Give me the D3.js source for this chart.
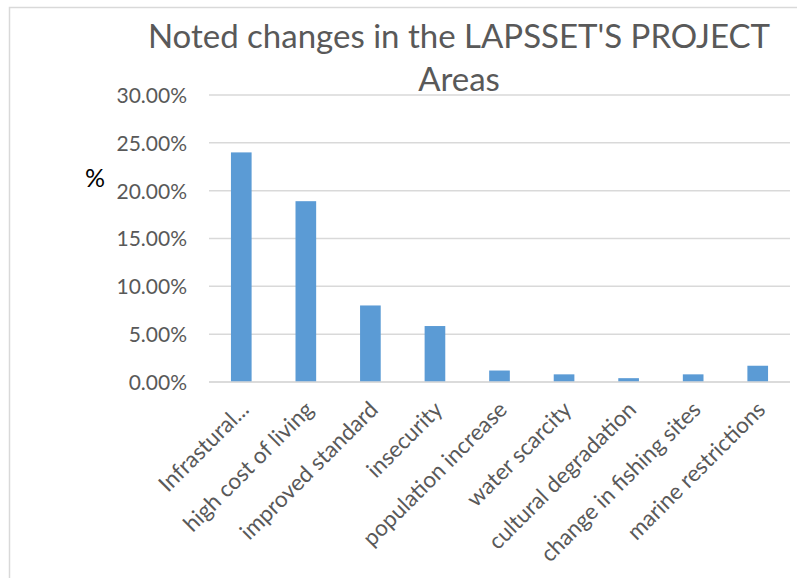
<!DOCTYPE html>
<html lang="en">
<head>
<meta charset="UTF-8">
<title>Noted changes in the LAPSSET'S PROJECT Areas</title>
<script src="https://d3js.org/d3.v7.min.js"></script>
<style>
  body { margin: 0; background: #fff; }
  svg { display: block; font-family: Lato, "Open Sans", sans-serif; }
  .tick text { fill: #595959; }
</style>
</head>
<body>
<svg id="chart" width="797" height="578"></svg>
<script>
const categories = ["Infrastural...", "high cost of living", "improved standard", "insecurity",
  "population increase", "water scarcity", "cultural degradation", "change in fishing sites", "marine restrictions"];
const values = [24.0, 18.9, 8.0, 5.85, 1.2, 0.8, 0.4, 0.8, 1.7];
const yTicks = [0, 5, 10, 15, 20, 25, 30];
const titleLines = ["Noted changes in the LAPSSET'S PROJECT", "Areas"];

const W = 797, H = 578;
const plot = { left: 209, right: 790, top: 95, bottom: 382 };
const svg = d3.select("#chart");

// chart border (only left and top edges visible in the crop)
svg.append("path")
  .attr("d", `M9.5,${H} V7.5 H${W}`)
  .attr("fill", "none").attr("stroke", "#d9d9d9").attr("stroke-width", 1.5);

const x = d3.scaleBand().domain(categories).range([plot.left, plot.right]).paddingInner(0.68).paddingOuter(0.34);
const y = d3.scaleLinear().domain([0, 30]).range([plot.bottom, plot.top]);

// gridlines
svg.append("g").selectAll("line").data(yTicks).join("line")
  .attr("x1", plot.left).attr("x2", plot.right)
  .attr("y1", d => y(d)).attr("y2", d => y(d))
  .attr("stroke", "#d9d9d9").attr("stroke-width", 1.5);

// y axis labels
const yAxis = svg.append("g").attr("transform", `translate(${plot.left - 22},0)`)
  .call(d3.axisLeft(y).tickValues(yTicks).tickSize(0).tickPadding(0).tickFormat(d => d.toFixed(2) + "%"));
yAxis.select(".domain").remove();
yAxis.selectAll("text").attr("font-size", 21).attr("font-family", "Lato, sans-serif").attr("dy", "0.35em");

// bars
svg.append("g").selectAll("rect").data(values).join("rect")
  .attr("x", (d, i) => x(categories[i]))
  .attr("width", x.bandwidth())
  .attr("y", d => y(d))
  .attr("height", d => y(0) - y(d))
  .attr("fill", "#5b9bd5");

// category labels, rotated
svg.append("g").selectAll("text").data(categories).join("text")
  .attr("transform", d => `translate(${x(d) + x.bandwidth() / 2 + 9},${plot.bottom + 29}) rotate(-45)`)
  .attr("text-anchor", "end")
  .attr("font-size", 22.5)
  .attr("fill", "#595959")
  .text(d => d);

// baseline
svg.append("line")
  .attr("x1", plot.left).attr("x2", plot.right)
  .attr("y1", y(0)).attr("y2", y(0))
  .attr("stroke", "#d9d9d9").attr("stroke-width", 1.5);

// y-axis title
svg.append("text")
  .attr("x", 95).attr("y", 187)
  .attr("text-anchor", "middle")
  .attr("font-size", 25)
  .attr("fill", "#000")
  .text("%");

// chart title
svg.append("g").selectAll("text").data(titleLines).join("text")
  .attr("x", 459).attr("y", (d, i) => 48 + i * 43)
  .attr("text-anchor", "middle")
  .attr("font-size", 33)
  .attr("fill", "#595959")
  .text(d => d);
</script>
</body>
</html>
